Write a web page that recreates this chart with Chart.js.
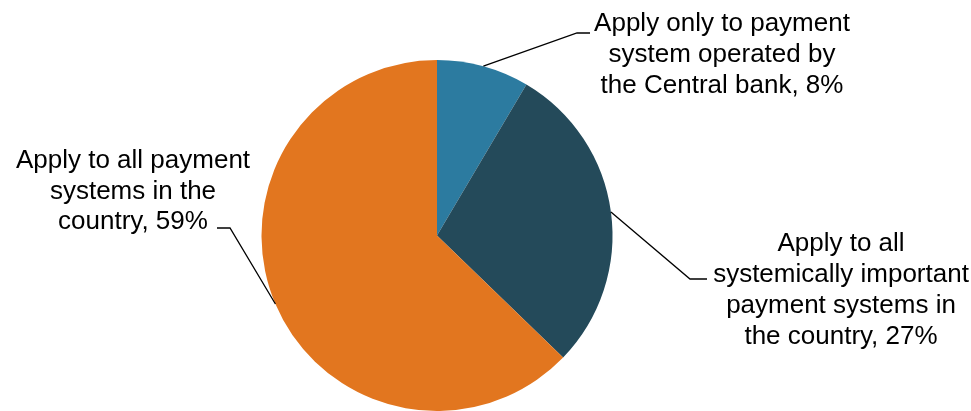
<!DOCTYPE html>
<html>
<head>
<meta charset="utf-8">
<script src="https://cdn.jsdelivr.net/npm/chart.js@4.4.1/dist/chart.umd.min.js"></script>
<style>
  html, body { margin: 0; padding: 0; background: #fff; }
  #wrap { width: 971px; height: 411px; position: relative; }
</style>
</head>
<body>
<div id="wrap"><canvas id="pie"></canvas></div>
<script>
const categories = [
  'Apply only to payment system operated by the Central bank',
  'Apply to all systemically important payment systems in the country',
  'Apply to all payment systems in the country'
];
const shares = [8, 27, 59];
const sliceColors = ['#2C7BA0', '#244A5A', '#E2761F'];

// how each label is wrapped and where it sits (layout only)
const labelLines = [
  ['Apply only to payment', 'system operated by', 'the Central bank, 8%'],
  ['Apply to all', 'systemically important', 'payment systems in', 'the country, 27%'],
  ['Apply to all payment', 'systems in the', 'country, 59%']
];
const labelBoxes = [
  { cx: 722, base: 31, lh: 31, elbow: [577, 33], tail: [590, 33] },
  { cx: 841, base: 251, lh: 31, elbow: [690, 279], tail: [707, 279] },
  { cx: 133, base: 168, lh: 30.5, elbow: [230, 228], tail: [217, 228] }
];

const calloutPlugin = {
  id: 'callouts',
  afterDraw(chart) {
    const ctx = chart.ctx;
    const arcs = chart.getDatasetMeta(0).data;
    ctx.save();
    arcs.forEach((arc, i) => {
      const p = arc.getProps(['x', 'y', 'startAngle', 'endAngle', 'outerRadius'], true);
      const mid = (p.startAngle + p.endAngle) / 2;
      const sx = p.x + Math.cos(mid) * p.outerRadius;
      const sy = p.y + Math.sin(mid) * p.outerRadius;
      const box = labelBoxes[i];
      ctx.strokeStyle = '#000';
      ctx.lineWidth = 1.3;
      ctx.beginPath();
      ctx.moveTo(sx, sy);
      ctx.lineTo(box.elbow[0], box.elbow[1]);
      ctx.lineTo(box.tail[0], box.tail[1]);
      ctx.stroke();

      ctx.fillStyle = '#000';
      ctx.font = '26px "Liberation Sans", Arial, sans-serif';
      ctx.textAlign = 'center';
      ctx.textBaseline = 'alphabetic';
      labelLines[i].forEach((line, j) => {
        ctx.fillText(line, box.cx, box.base + j * box.lh);
      });
    });
    ctx.restore();
  }
};

new Chart(document.getElementById('pie'), {
  type: 'pie',
  data: {
    labels: categories,
    datasets: [{
      data: shares,
      backgroundColor: sliceColors,
      borderWidth: 0
    }]
  },
  options: {
    responsive: true,
    maintainAspectRatio: false,
    animation: false,
    layout: { padding: { top: 60, bottom: 0, left: 0, right: 97 } },
    plugins: {
      legend: { display: false },
      tooltip: { enabled: false }
    }
  },
  plugins: [calloutPlugin]
});
</script>
</body>
</html>
